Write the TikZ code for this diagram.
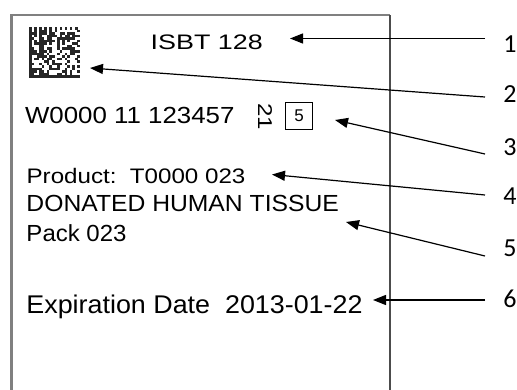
\documentclass[tikz,border=0pt]{standalone}
\usepackage{fontspec}
\setmainfont{Liberation Sans}
\newfontfamily\numfont{Carlito}
\usetikzlibrary{arrows.meta}
\begin{document}
\begin{tikzpicture}[x=1pt,y=-1pt,
  lbl/.style={anchor=base west,inner sep=0pt,text=black},
  num/.style={font=\numfont\fontsize{26}{26}\selectfont,inner sep=0pt,text=black},
  arr/.style={line width=1.2pt,draw=black,-{Triangle[length=13pt,width=10pt]}},
  framegray/.style={draw=black!50,line width=2.6pt},
  framedark/.style={draw=black!70,line width=2pt}]
\useasboundingbox (0,0) rectangle (517,389);
% label frame
\draw[framegray] (11.5,390) -- (11.5,15) -- (390,15);
\draw[framedark] (390,15) -- (390,390);
% data matrix symbol
\begin{scope}[shift={(29,27)}]
\pgfmathsetseed{12}
\foreach \i in {0,...,19}{
  \foreach \j in {0,...,19}{
    \ifnum\i=0 \def\fl{1}\else
    \ifnum\j=19 \def\fl{1}\else
    \ifnum\j=0 \pgfmathtruncatemacro\fl{mod(\i+1,2)}\else
    \ifnum\i=19 \pgfmathtruncatemacro\fl{mod(\j,2)}\else
    \pgfmathrandominteger{\fl}{0}{1}\fi\fi\fi\fi
    \ifnum\fl=1 \fill[black!85] (\i*2.55,\j*2.55) rectangle ++(2.6,2.6);\fi
  }
}
\end{scope}
% texts
\node[lbl,font=\fontsize{21}{21}\selectfont] (isbt) at (150.5,49.3) {\scalebox{1.28}[1]{ISBT 128}};
\node[lbl,font=\fontsize{23.3}{23.3}\selectfont] (din) at (24.8,123.3) {\scalebox{1.11}[1]{W0000 11 123457}};
\node[rotate=-90,inner sep=0pt,text=black,font=\fontsize{20}{20}\selectfont] (flag) at (265,117) {\scalebox{1.2}[1]{21}};
\node[draw=black,line width=1.3pt,minimum size=27pt,inner sep=0pt,text=black,font=\fontsize{17}{17}\selectfont] (five) at (299,116) {5};
\node[lbl,font=\fontsize{21}{21}\selectfont] (prod) at (26.4,183.3) {\scalebox{1.15}[1]{Product:\ \ T0000 023}};
\node[lbl,font=\fontsize{23.3}{23.3}\selectfont] (don) at (26.3,211.7) {\scalebox{1.06}[1]{DONATED HUMAN TISSUE}};
\node[lbl,font=\fontsize{23.3}{23.3}\selectfont] (pack) at (26.3,241.7) {\scalebox{1.03}[1]{Pack 023}};
\node[lbl,font=\fontsize{25.6}{25.6}\selectfont] (exp) at (26.2,313.3) {\scalebox{1.05}[1]{Expiration Date\ \ 2013-01-22}};
% callout numbers
\node[num] (n1) at (510,44) {1};
\node[num] (n2) at (510,94) {2};
\node[num] (n3) at (510,147) {3};
\node[num] (n4) at (510,196) {4};
\node[num] (n5) at (510,248) {5};
\node[num] (n6) at (510,298.5) {6};
% connector ends
\coordinate (s1) at (485,38.5);  \coordinate (t1) at (290,38.5);
\coordinate (s2) at (485,97);    \coordinate (t2) at (90,68);
\coordinate (s3) at (485,154);   \coordinate (t3) at (335,120);
\coordinate (s4) at (485,195);   \coordinate (t4) at (272,174.5);
\coordinate (s5) at (485,256);   \coordinate (t5) at (346,222);
\coordinate (s6) at (485,300);   \coordinate (t6) at (373,300);
\draw[arr] (s1) -- (t1);
\draw[arr] (s2) -- (t2);
\draw[arr] (s3) -- (t3);
\draw[arr] (s4) -- (t4);
\draw[arr] (s5) -- (t5);
\draw[arr] (s6) -- (t6);
\end{tikzpicture}
\end{document}
